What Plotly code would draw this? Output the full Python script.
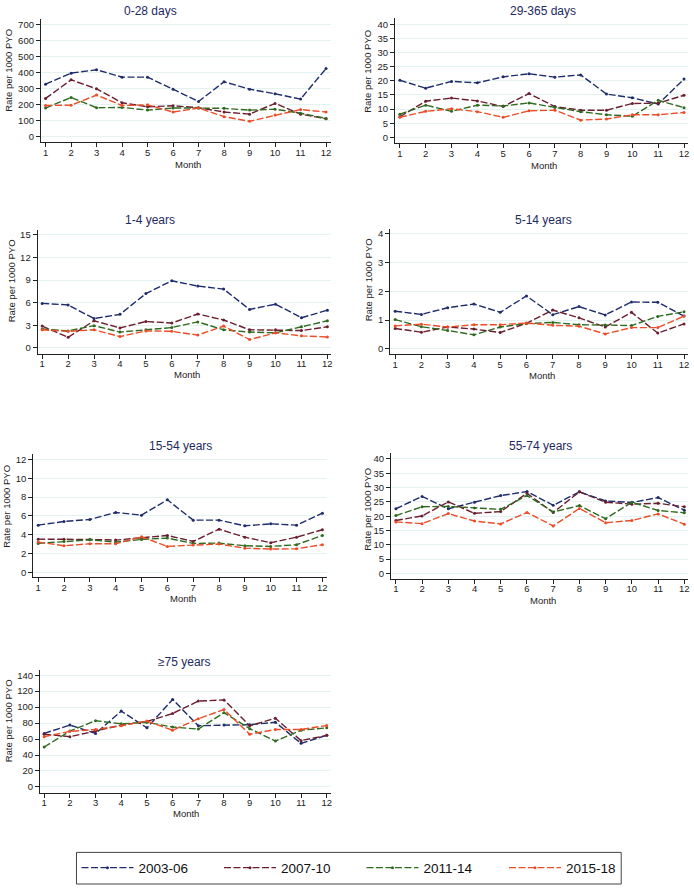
import plotly.graph_objects as go

# ---------------- data ----------------
months = list(range(1, 13))
series_names = ["2003-06", "2007-10", "2011-14", "2015-18"]
panel_titles = ["0-28 days", "29-365 days", "1-4 years", "5-14 years",
                "15-54 years", "55-74 years", "≥75 years"]

rate_0_28d = [
    [328, 397, 418, 372, 372, 297, 220, 343, 297, 268, 235, 426],
    [239, 355, 299, 212, 187, 193, 181, 154, 141, 208, 141, 112],
    [179, 245, 181, 183, 166, 179, 179, 177, 166, 172, 147, 114],
    [195, 197, 260, 195, 199, 154, 179, 125, 96, 135, 170, 154],
]
rate_29_365d = [
    [20.2, 17.4, 19.8, 19.3, 21.4, 22.5, 21.3, 22.1, 15.3, 14.0, 11.8, 20.6],
    [7.3, 12.8, 13.9, 12.9, 10.9, 15.5, 10.9, 9.6, 9.6, 12.0, 12.1, 14.9],
    [8.2, 11.4, 9.2, 11.4, 11.1, 12.2, 10.6, 9.1, 8.0, 7.5, 13.1, 10.5],
    [7.1, 9.2, 10.1, 9.1, 7.1, 9.4, 9.6, 6.1, 6.5, 8.0, 8.0, 8.8],
]
rate_1_4y = [
    [5.9, 5.7, 3.9, 4.45, 7.2, 8.9, 8.2, 7.8, 5.1, 5.8, 4.0, 5.0],
    [2.9, 1.4, 3.6, 2.65, 3.5, 3.3, 4.5, 3.7, 2.4, 2.4, 2.3, 2.8],
    [2.5, 2.25, 2.95, 2.1, 2.4, 2.7, 3.45, 2.4, 2.1, 2.0, 2.8, 3.6],
    [2.4, 2.2, 2.4, 1.5, 2.25, 2.2, 1.7, 2.9, 1.1, 2.0, 1.6, 1.45],
]
rate_5_14y = [
    [1.31, 1.20, 1.43, 1.56, 1.27, 1.84, 1.19, 1.47, 1.18, 1.63, 1.62, 1.14],
    [0.71, 0.58, 0.76, 0.69, 0.57, 0.89, 1.35, 1.08, 0.76, 1.27, 0.55, 0.87],
    [1.02, 0.77, 0.64, 0.49, 0.76, 0.88, 0.92, 0.84, 0.83, 0.81, 1.13, 1.29],
    [0.80, 0.86, 0.76, 0.84, 0.84, 0.90, 0.82, 0.79, 0.52, 0.74, 0.74, 1.14],
]
rate_15_54y = [
    [5.03, 5.42, 5.63, 6.37, 6.09, 7.71, 5.56, 5.56, 4.96, 5.17, 5.03, 6.30],
    [3.55, 3.55, 3.52, 3.45, 3.69, 3.94, 3.31, 4.61, 3.76, 3.17, 3.76, 4.54],
    [3.10, 3.31, 3.48, 3.24, 3.52, 3.66, 3.10, 3.13, 2.85, 2.78, 2.96, 3.94],
    [3.24, 2.85, 3.06, 3.06, 3.80, 2.78, 2.92, 3.03, 2.60, 2.50, 2.53, 2.96],
]
rate_55_74y = [
    [22.6, 26.9, 22.6, 24.9, 27.2, 28.6, 23.8, 28.5, 25.3, 24.8, 26.5, 22.1],
    [18.5, 20.1, 25.0, 21.0, 21.6, 28.0, 21.3, 28.5, 24.9, 24.2, 24.5, 23.3],
    [20.2, 23.3, 23.4, 22.9, 22.4, 27.2, 21.5, 23.7, 19.1, 24.9, 22.0, 21.2],
    [18.0, 17.4, 20.9, 18.3, 17.3, 21.3, 16.6, 22.7, 17.7, 18.5, 20.8, 17.2],
]
rate_75plus = [
    [67, 77.5, 67, 95, 74, 109.6, 76.7, 77.5, 78, 81, 54.6, 64.6],
    [66, 63, 70, 77.5, 82, 92, 107.5, 109, 76.7, 86, 58, 64.6],
    [50, 70, 83, 79, 81, 75, 72.5, 93, 73, 57.5, 71, 74],
    [63, 69.6, 72, 76.7, 82.5, 71, 85.4, 97, 66, 72, 72, 77],
]

yticks_0_28d = [0, 100, 200, 300, 400, 500, 600, 700]
yticks_29_365d = [0, 5, 10, 15, 20, 25, 30, 35, 40]
yticks_1_4y = [0, 3, 6, 9, 12, 15]
yticks_5_14y = [0, 1, 2, 3, 4]
yticks_15_54y = [0, 2, 4, 6, 8, 10, 12]
yticks_55_74y = [0, 5, 10, 15, 20, 25, 30, 35, 40]
yticks_75plus = [0, 20, 40, 60, 80, 100, 120, 140]

panel_data = [rate_0_28d, rate_29_365d, rate_1_4y, rate_5_14y,
              rate_15_54y, rate_55_74y, rate_75plus]
panel_yticks = [yticks_0_28d, yticks_29_365d, yticks_1_4y, yticks_5_14y,
                yticks_15_54y, yticks_55_74y, yticks_75plus]

# ---------------- styling / layout geometry (pixels) ----------------
W, H = 694, 889
colors = ["#1e2c6c", "#6a1e2e", "#2f6a1f", "#ec4c28"]

# left, right, top, bottom of plot box; px of month 1 and 12; px of top tick and of 0
geom = [
    (41.0, 332.0, 18.3, 141.7, 45.7, 327.0, 23.7, 136.0),
    (396.0, 690.0, 17.3, 142.7, 401.0, 686.0, 23.3, 136.7),
    (37.7, 332.0, 229.3, 353.3, 42.3, 328.3, 234.3, 347.7),
    (391.3, 690.0, 228.3, 354.0, 396.3, 686.0, 233.3, 348.7),
    (33.3, 328.3, 454.0, 577.7, 38.3, 323.3, 459.3, 573.0),
    (392.0, 690.0, 453.3, 579.3, 397.0, 686.3, 459.0, 573.7),
    (40.0, 332.0, 670.7, 793.3, 44.3, 327.7, 675.7, 787.7),
]
title_pos = [(151, 10), (545, 10), (150, 219), (545, 219), (181, 446), (542, 446), (185, 662)]
month_pos = [(189, 164), (546, 165), (188, 374), (544, 375), (184, 599), (545, 601), (187, 814)]
ytitle_pos = [(9, 69), (369, 70), (11, 280), (369, 279), (7, 506), (369, 509), (8, 721)]
legend_box = (76.7, 623.0, 853.3, 885.0)

FONT = "Liberation Sans, Arial, Helvetica, sans-serif"

fig = go.Figure()
annotations = []
layout_axes = {}

for i, (data, yt) in enumerate(zip(panel_data, panel_yticks)):
    n = "" if i == 0 else str(i + 1)
    left, right, top, bottom, m1, m12, ytop_px, y0_px = geom[i]
    ppm = (m12 - m1) / 11.0
    xr = [1 + (left - m1) / ppm, 12 + (right - m12) / ppm]
    ymax = yt[-1]
    ppu = (y0_px - ytop_px) / ymax
    yr = [-(bottom - y0_px) / ppu, ymax + (ytop_px - top) / ppu]

    for s, (vals, name) in enumerate(zip(data, series_names)):
        fig.add_trace(go.Scatter(
            x=months, y=vals, name=name, mode="lines+markers",
            line=dict(color=colors[s], width=1.4, dash="7px,2.5px"),
            marker=dict(color=colors[s], size=3),
            xaxis="x" + n, yaxis="y" + n,
            showlegend=(i == 0), legendgroup=name,
        ))

    layout_axes["xaxis" + n] = dict(
        domain=[left / W, right / W], range=xr, anchor="y" + n,
        tickmode="array", tickvals=months, ticktext=[str(m) for m in months],
        showline=True, linecolor="#222", linewidth=1, ticks="outside",
        ticklen=4, tickcolor="#222", showgrid=False, zeroline=False,
        ticklabeloverflow="allow", ticklabelstandoff=-3,
        tickfont=dict(size=9.5, color="#222", family=FONT),
    )
    layout_axes["yaxis" + n] = dict(
        domain=[1 - bottom / H, 1 - top / H], range=yr, anchor="x" + n,
        tickmode="array", tickvals=yt, ticktext=[str(v) for v in yt],
        showline=True, linecolor="#222", linewidth=1, ticks="outside",
        ticklen=4, tickcolor="#222", showgrid=True, gridcolor="#e3f3ef",
        gridwidth=1, zeroline=False, ticklabeloverflow="allow",
        tickfont=dict(size=9.5, color="#222", family=FONT),
    )

    tx, ty = title_pos[i]
    annotations.append(dict(text=panel_titles[i], x=tx / W, y=1 - ty / H,
                            xref="paper", yref="paper", showarrow=False,
                            xanchor="center", yanchor="middle",
                            font=dict(size=12, color="#1e2a5e", family=FONT)))
    mx, my = month_pos[i]
    annotations.append(dict(text="Month", x=mx / W, y=1 - my / H,
                            xref="paper", yref="paper", showarrow=False,
                            xanchor="center", yanchor="middle",
                            font=dict(size=9.5, color="#222", family=FONT)))
    yx, yy = ytitle_pos[i]
    annotations.append(dict(text="Rate per 1000 PYO", x=yx / W, y=1 - yy / H,
                            xref="paper", yref="paper", showarrow=False,
                            textangle=-90, xanchor="center", yanchor="middle",
                            font=dict(size=9.5, color="#222", family=FONT)))

lx0, lx1, ly0, ly1 = legend_box
fig.update_layout(
    width=W, height=H, autosize=False,
    margin=dict(l=0, r=0, t=0, b=0),
    paper_bgcolor="white", plot_bgcolor="white",
    font=dict(family=FONT, color="#222"),
    annotations=annotations,
    shapes=[dict(type="rect", xref="paper", yref="paper",
                 x0=lx0 / W, x1=lx1 / W, y0=1 - ly1 / H, y1=1 - ly0 / H,
                 line=dict(color="#444", width=1), fillcolor="rgba(0,0,0,0)",
                 layer="below")],
    showlegend=True,
    legend=dict(
        orientation="h", x=lx0 / W, y=1 - ly0 / H,
        xanchor="left", yanchor="top",
        borderwidth=0, bgcolor="rgba(0,0,0,0)",
        font=dict(size=13.5, color="#111", family=FONT),
        itemwidth=52, entrywidth=75.5, entrywidthmode="pixels",
        tracegroupgap=0,
    ),
    **layout_axes,
)

fig.write_html(
    "out.html",
    config={"displayModeBar": False},
    post_script="document.body.style.margin='0';document.body.style.overflow='hidden';",
)
